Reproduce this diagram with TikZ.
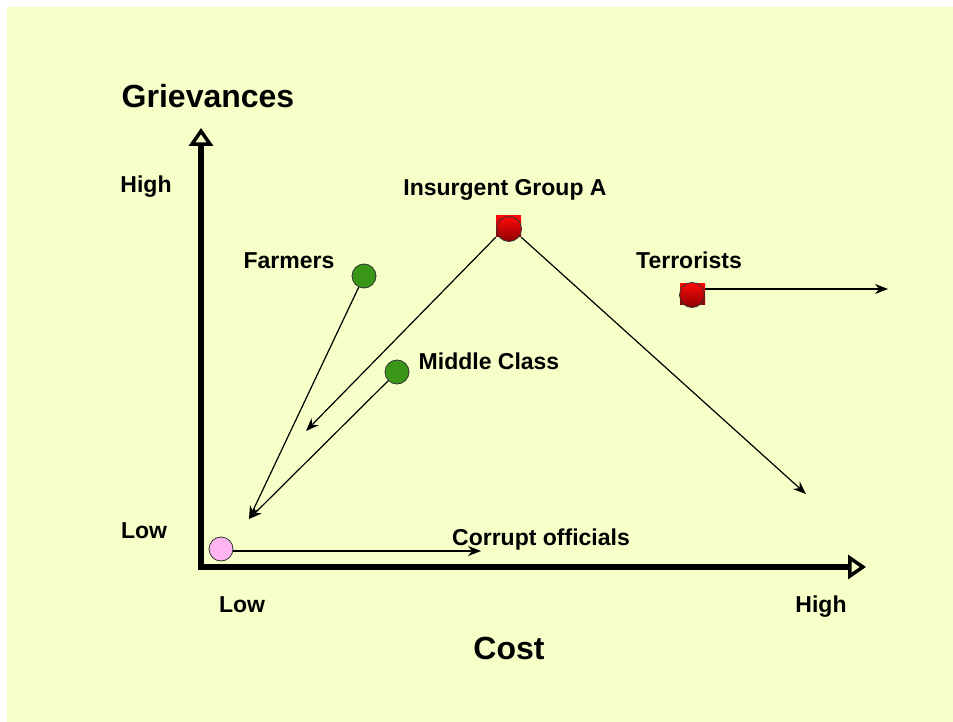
\documentclass[tikz,border=0pt]{standalone}
\usepackage{fontspec}
\setmainfont{Liberation Sans}
\usepackage{xcolor}
\usetikzlibrary{arrows.meta}

\definecolor{bgyellow}{RGB}{245,255,200}
\definecolor{dotgreen}{RGB}{57,150,22}
\definecolor{dotpink}{RGB}{255,182,240}
\definecolor{dotred}{RGB}{255,10,10}
\definecolor{dotdark}{RGB}{140,0,0}

\begin{document}
\begin{tikzpicture}[x=1pt,y=-1pt,
    lbl/.style={font=\fontsize{23}{28}\selectfont\bfseries, anchor=base},
    ttl/.style={font=\fontsize{32}{38}\selectfont\bfseries, anchor=base},
    dot/.style={circle, draw=black!80, line width=0.8pt, minimum size=24pt, inner sep=0pt},
    redsq/.style={rectangle, minimum width=25pt, minimum height=21pt, inner sep=0pt,
        top color=dotred, bottom color=dotdark},
    move/.style={line width=1.2pt, -{Stealth[length=13pt,width=10pt]}},
    axis/.style={line width=6pt, -{Triangle[open,length=18pt,width=24pt,line width=3.5pt]}}]
    \useasboundingbox (0,0) rectangle (953,722);
    \fill[white] (0,0) rectangle (953,722);
    \fill[bgyellow] (7,7) rectangle (953,722);

    % axes
    \coordinate (origin) at (201,567);
    \coordinate (ytop) at (201,128);
    \coordinate (xend) at (866,567);
    \draw[axis] ([yshift=-3pt]origin) -- (ytop);
    \draw[axis] ([xshift=-3pt]origin) -- (xend);

    % axis labels
    \node[ttl] (grv) at (208,108) {Grievances};
    \node[ttl] (cost) at (509,659) {Cost};
    \node[lbl] (yhigh) at (146,193) {High};
    \node[lbl] (ylow) at (144,538) {Low};
    \node[lbl] (xlow) at (242,612) {Low};
    \node[lbl] (xhigh) at (821,612) {High};

    % groups
    \node[dot, fill=dotpink] (corrupt) at (221,549) {};
    \node[dot, fill=dotgreen] (farm) at (364,276) {};
    \node[dot, fill=dotgreen] (mid) at (397,372) {};
    \node[redsq] (insA) at (508.5,226.5) {};
    \node[dot, minimum size=25pt, top color=dotred, bottom color=dotdark] (insAdot) at (509,229) {};
    \node[redsq] (terr) at (692.5,293.5) {};
    \node[dot, minimum size=25pt, top color=dotred, bottom color=dotdark] (terrdot) at (692,295) {};

    \node[lbl] (insAlbl) at (505,196) {Insurgent Group A};
    \node[lbl] (farmlbl) at (289,268) {Farmers};
    \node[lbl] (midlbl) at (489,369) {Middle Class};
    \node[lbl] (terrlbl) at (689,268) {Terrorists};
    \node[lbl] (corruptlbl) at (541,545) {Corrupt officials};

    % movements
    \coordinate (insAleft) at (306,431);
    \coordinate (insAright) at (806,494);
    \coordinate (lowend) at (249,519);
    \coordinate (corruptend) at (481,551);
    \coordinate (terrend) at (888,289);
    \draw[move] (insA.south west) -- (insAleft);
    \draw[move] (insA.south east) -- (insAright);
    \draw[move] (farm) -- (lowend);
    \draw[move] (mid) -- (lowend);
    \draw[move] (corrupt.east |- corruptend) -- (corruptend);
    \draw[move] (terrdot.east |- terrend) -- (terrend);
\end{tikzpicture}
\end{document}
